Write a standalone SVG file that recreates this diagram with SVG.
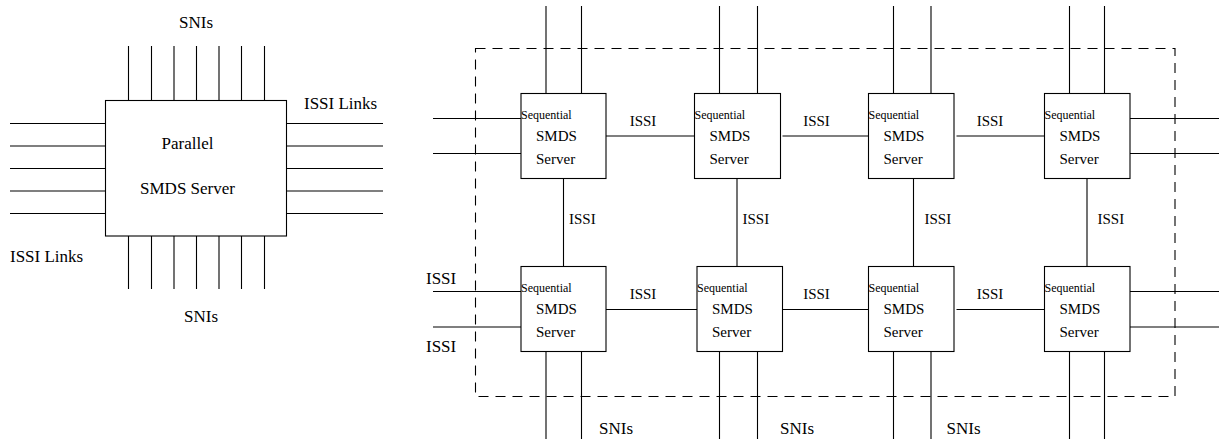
<svg xmlns="http://www.w3.org/2000/svg" width="1219" height="441" viewBox="0 0 1219 441">
<style>
.ln{stroke:#000;stroke-width:1.1;fill:none}
.bx{stroke:#000;stroke-width:1.1;fill:#fff}
.dash{stroke:#000;stroke-width:1.1;fill:none;stroke-dasharray:10,7}
text{font-family:"Liberation Serif","Times New Roman",serif;fill:#000}
.l{font-size:17px}
.m{font-size:15px}
.s{font-size:12px}
</style>
<rect width="1219" height="441" fill="#fff"/>
<g id="connectors">
<!-- left parallel server pins -->
<path class="ln" d="M128.5,46V101M151.5,46V101M174,46V101M196.5,46V101M219,46V101M241.5,46V101M264.5,46V101"/>
<path class="ln" d="M128.5,236V289M151.5,236V289M174,236V289M196.5,236V289M219,236V289M241.5,236V289M264.5,236V289"/>
<path class="ln" d="M10,123.5H106M10,146H106M10,168.5H106M10,191H106M10,213.5H106"/>
<path class="ln" d="M287,123.5H383M287,146H383M287,168.5H383M287,191H383M287,213.5H383"/>
<!-- grid SNIs top -->
<path class="ln" d="M546,6V93.5M581.5,6V93.5M719.5,6V93.5M757.5,6V93.5M893.5,6V93.5M931,6V93.5M1069.5,6V93.5M1104.5,6V93.5"/>
<!-- grid SNIs bottom -->
<path class="ln" d="M546,351.5V439M581.5,351.5V439M719.5,351.5V439M757.5,351.5V439M893.5,351.5V439M931,351.5V439M1069.5,351.5V439M1104.5,351.5V439"/>
<!-- external ISSI -->
<path class="ln" d="M433,118.5H521M433,153.5H521M433,291.5H521M433,327H521"/>
<path class="ln" d="M1130,118.5H1219M1130,153.5H1219M1130,291.5H1219M1130,327H1219"/>
<!-- internal ISSI horizontal -->
<path class="ln" d="M606,136H694.5M782.5,136H868.5M956.5,136H1044.5"/>
<path class="ln" d="M606,309.5H697M782.5,309.5H868.5M956.5,309.5H1044.5"/>
<!-- internal ISSI vertical -->
<path class="ln" d="M563.5,178.5V266.5M737,178.5V266.5M913.5,178.5V266.5M1087,178.5V266.5"/>
<rect class="dash" x="475.5" y="48.5" width="699.5" height="348"/>
</g>
<g id="parallel-server">
<rect class="bx" x="105.5" y="100.5" width="181" height="135.5"/>
<text class="l" x="187.5" y="149" text-anchor="middle">Parallel</text>
<text class="l" x="187.5" y="194" text-anchor="middle">SMDS Server</text>
</g>
<g id="left-labels">
<text class="l" x="196" y="27.5" text-anchor="middle">SNIs</text>
<text class="l" x="304" y="109">ISSI Links</text>
<text class="l" x="10" y="261.5">ISSI Links</text>
<text class="l" x="201" y="321.5" text-anchor="middle">SNIs</text>
</g>
<g id="seq1">
<rect class="bx" x="521" y="93.5" width="85" height="85"/>
<text class="s" x="521" y="119">Sequential</text>
<text class="m" x="536" y="141">SMDS</text>
<text class="m" x="536" y="164">Server</text>
</g>
<g id="seq2">
<rect class="bx" x="694.5" y="93.5" width="86" height="85"/>
<text class="s" x="694.5" y="119">Sequential</text>
<text class="m" x="709.5" y="141">SMDS</text>
<text class="m" x="709.5" y="164">Server</text>
</g>
<g id="seq3">
<rect class="bx" x="868.5" y="93.5" width="85.5" height="85"/>
<text class="s" x="868.5" y="119">Sequential</text>
<text class="m" x="883.5" y="141">SMDS</text>
<text class="m" x="883.5" y="164">Server</text>
</g>
<g id="seq4">
<rect class="bx" x="1044.5" y="93.5" width="85.5" height="85"/>
<text class="s" x="1044.5" y="119">Sequential</text>
<text class="m" x="1059.5" y="141">SMDS</text>
<text class="m" x="1059.5" y="164">Server</text>
</g>
<g id="seq5">
<rect class="bx" x="521" y="266.5" width="85" height="85"/>
<text class="s" x="521" y="292">Sequential</text>
<text class="m" x="536" y="314">SMDS</text>
<text class="m" x="536" y="336.5">Server</text>
</g>
<g id="seq6">
<rect class="bx" x="697" y="266.5" width="85.5" height="85"/>
<text class="s" x="697" y="292">Sequential</text>
<text class="m" x="712" y="314">SMDS</text>
<text class="m" x="712" y="336.5">Server</text>
</g>
<g id="seq7">
<rect class="bx" x="868.5" y="266.5" width="85.5" height="85"/>
<text class="s" x="868.5" y="292">Sequential</text>
<text class="m" x="883.5" y="314">SMDS</text>
<text class="m" x="883.5" y="336.5">Server</text>
</g>
<g id="seq8">
<rect class="bx" x="1044.5" y="266.5" width="85.5" height="85"/>
<text class="s" x="1044.5" y="292">Sequential</text>
<text class="m" x="1059.5" y="314">SMDS</text>
<text class="m" x="1059.5" y="336.5">Server</text>
</g>
<g id="grid-labels">
<text class="m" x="643" y="126" text-anchor="middle">ISSI</text>
<text class="m" x="816.5" y="126" text-anchor="middle">ISSI</text>
<text class="m" x="990" y="126" text-anchor="middle">ISSI</text>
<text class="m" x="643" y="299" text-anchor="middle">ISSI</text>
<text class="m" x="816.5" y="299" text-anchor="middle">ISSI</text>
<text class="m" x="990" y="299" text-anchor="middle">ISSI</text>
<text class="m" x="569" y="224">ISSI</text>
<text class="m" x="742.5" y="224">ISSI</text>
<text class="m" x="924.5" y="224">ISSI</text>
<text class="m" x="1097.5" y="224">ISSI</text>
<text class="l" x="426" y="283.5">ISSI</text>
<text class="l" x="426" y="351.5">ISSI</text>
<text class="l" x="599" y="434">SNIs</text>
<text class="l" x="780" y="434">SNIs</text>
<text class="l" x="946.5" y="434">SNIs</text>
</g>
</svg>
